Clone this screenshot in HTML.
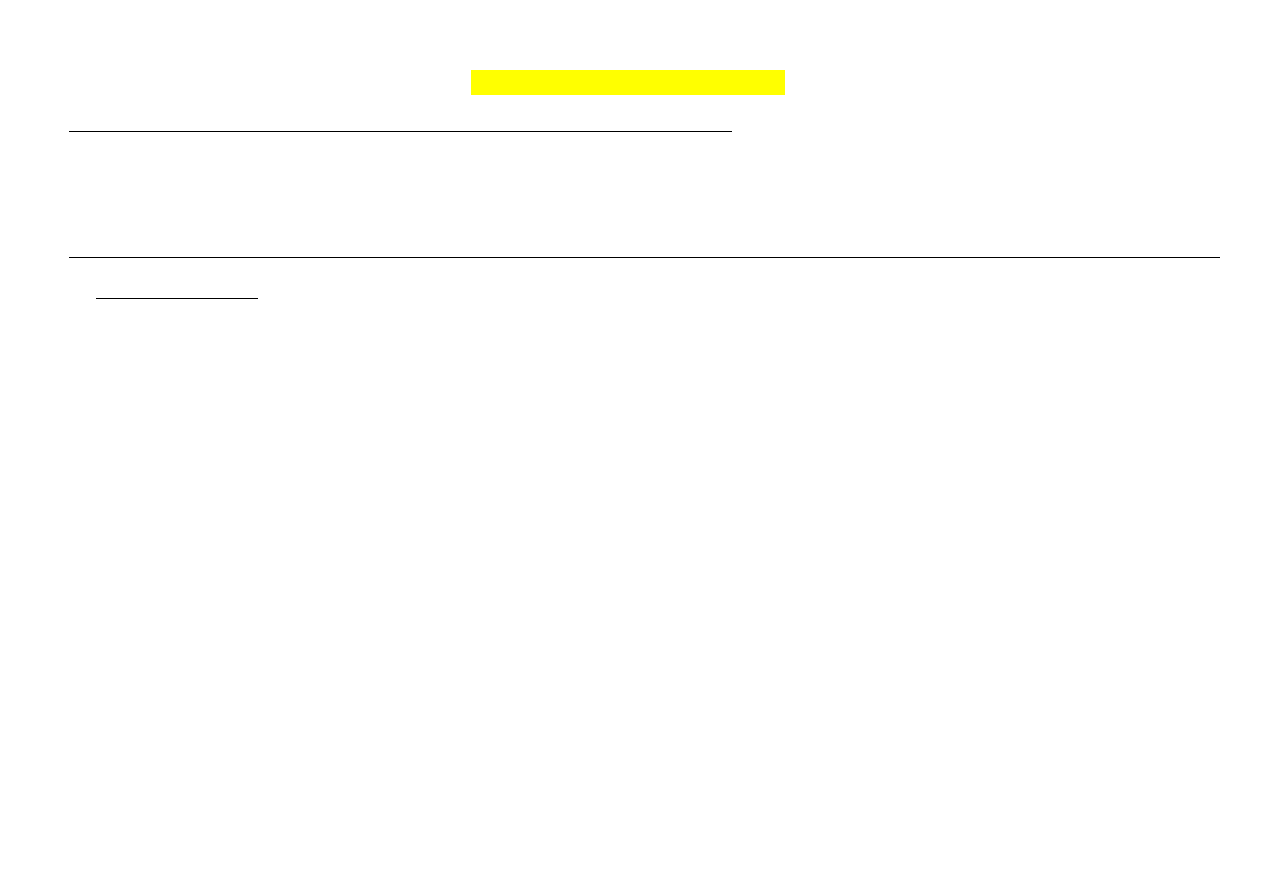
<!DOCTYPE html>
<html><head><meta charset="utf-8"><style>
html,body{margin:0;padding:0;background:#fff;width:1263px;height:893px;overflow:hidden;position:relative;font-family:"Liberation Sans",sans-serif}
div{position:absolute}
</style></head><body>
<div style="left:471px;top:70px;width:314px;height:25px;background:#ffff00"></div>
<div style="left:69px;top:131px;width:663px;height:1px;background:#000"></div>
<div style="left:69px;top:257px;width:1151px;height:1px;background:#000"></div>
<div style="left:96px;top:298px;width:162px;height:1px;background:#000"></div>
</body></html>
